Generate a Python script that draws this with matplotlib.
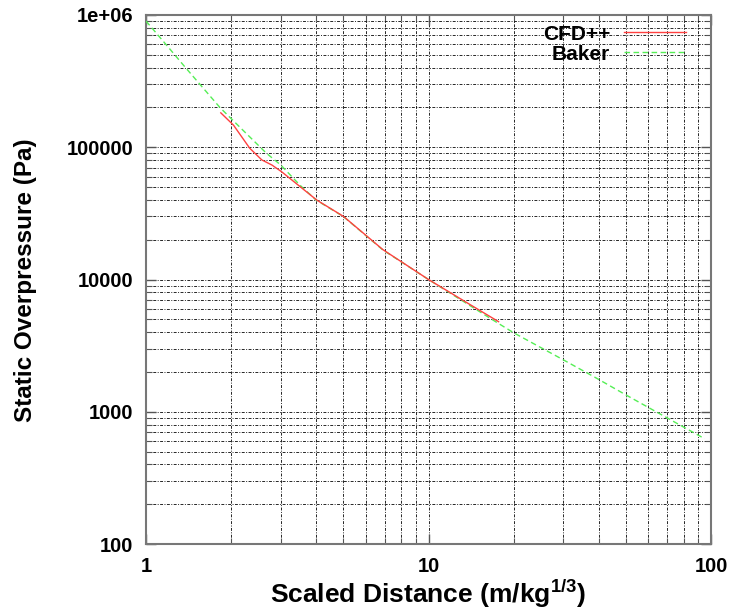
import matplotlib
matplotlib.use("Agg")
import matplotlib.pyplot as plt
from matplotlib.ticker import LogLocator, FixedLocator, FixedFormatter, NullFormatter

plt.rcParams['font.family'] = ['Liberation Sans', 'DejaVu Sans']
plt.rcParams['mathtext.fontset'] = 'custom'
plt.rcParams['mathtext.bf'] = 'Liberation Sans:bold'

# Baker reference curve
baker_x = [1.0, 1.2, 1.36, 1.55, 1.83, 2.2, 2.67, 3.0, 3.5, 4.0, 5.0, 6.9,
           10, 16.9, 20, 30, 39.4, 50, 77.6, 95]
baker_y = [9.0e5, 5.7e5, 4.15e5, 3.0e5, 1.99e5, 1.35e5, 9.0e4, 7.34e4, 5.19e4,
           3.99e4, 2.99e4, 1.67e4, 1.0e4, 4940, 3960, 2470, 1790, 1340, 794, 625]

# CFD++ result
cfd_x = [1.84, 2.04, 2.33, 2.57, 2.79, 3.02, 3.51, 4.02, 5.0, 6.9, 10, 14, 17.7]
cfd_y = [1.82e5, 1.47e5, 9.82e4, 8.02e4, 7.34e4, 6.53e4, 5.04e4, 3.99e4,
         3.0e4, 1.68e4, 1.0e4, 6480, 4800]

x_ticks = [1, 10, 100]
x_labels = ['1', '10', '100']
y_ticks = [100, 1000, 10000, 100000, 1000000]
y_labels = ['100', '1000', '10000', '100000', '1e+06']

fig = plt.figure(figsize=(7.33, 6.11), dpi=100)
ax = fig.add_axes([146/733, 1-544/611, 565/733, 529/611])

ax.plot(cfd_x, cfd_y, color='#ff4040', lw=1.0, label='CFD++', zorder=4)
ax.plot(baker_x, baker_y, color='#55ee55', lw=1.0, ls=(0, (4, 2.5)), label='Baker', zorder=3)

ax.set_xscale('log')
ax.set_yscale('log')
ax.set_xlim(1, 100)
ax.set_ylim(100, 1e6)

ax.xaxis.set_major_locator(FixedLocator(x_ticks))
ax.xaxis.set_major_formatter(FixedFormatter(x_labels))
ax.yaxis.set_major_locator(FixedLocator(y_ticks))
ax.yaxis.set_major_formatter(FixedFormatter(y_labels))
ax.xaxis.set_minor_locator(LogLocator(base=10, subs=range(2, 10)))
ax.yaxis.set_minor_locator(LogLocator(base=10, subs=range(2, 10)))
ax.xaxis.set_minor_formatter(NullFormatter())
ax.yaxis.set_minor_formatter(NullFormatter())

ax.tick_params(which='both', direction='in', top=True, right=True, color='#555555')
ax.tick_params(which='major', length=7, width=1.0, labelsize=14.5, pad=9)
ax.tick_params(which='minor', length=4, width=0.8)
for lab in ax.get_xticklabels() + ax.get_yticklabels():
    lab.set_fontweight('bold')

ax.grid(True, which='both', color='black', lw=0.7, ls=(0, (3, 1.5, 1, 1.5)), alpha=0.85)
for s in ax.spines.values():
    s.set_color('#777777')
    s.set_linewidth(1.5)

# axis titles placed in figure pixels to match the reference
fig.text(428/733, 8/611, r'Scaled Distance (m/kg$^{\mathbf{1/3}}$)', fontsize=19,
         fontweight='bold', ha='center', va='baseline')
fig.text(26/733, 1-280/611, 'Static Overpressure (Pa)', fontsize=17.5,
         fontweight='bold', ha='center', va='center', rotation=90)

leg = ax.legend(loc='upper right', markerfirst=False, frameon=False,
                prop={'weight': 'bold', 'size': 15}, handlelength=3.0,
                borderaxespad=0, borderpad=0, labelspacing=0.05, handletextpad=0.65,
                bbox_to_anchor=(0.956, 0.982))
for t in leg.get_texts():
    t.set_ha('right')

fig.savefig('out.png', dpi=100)
